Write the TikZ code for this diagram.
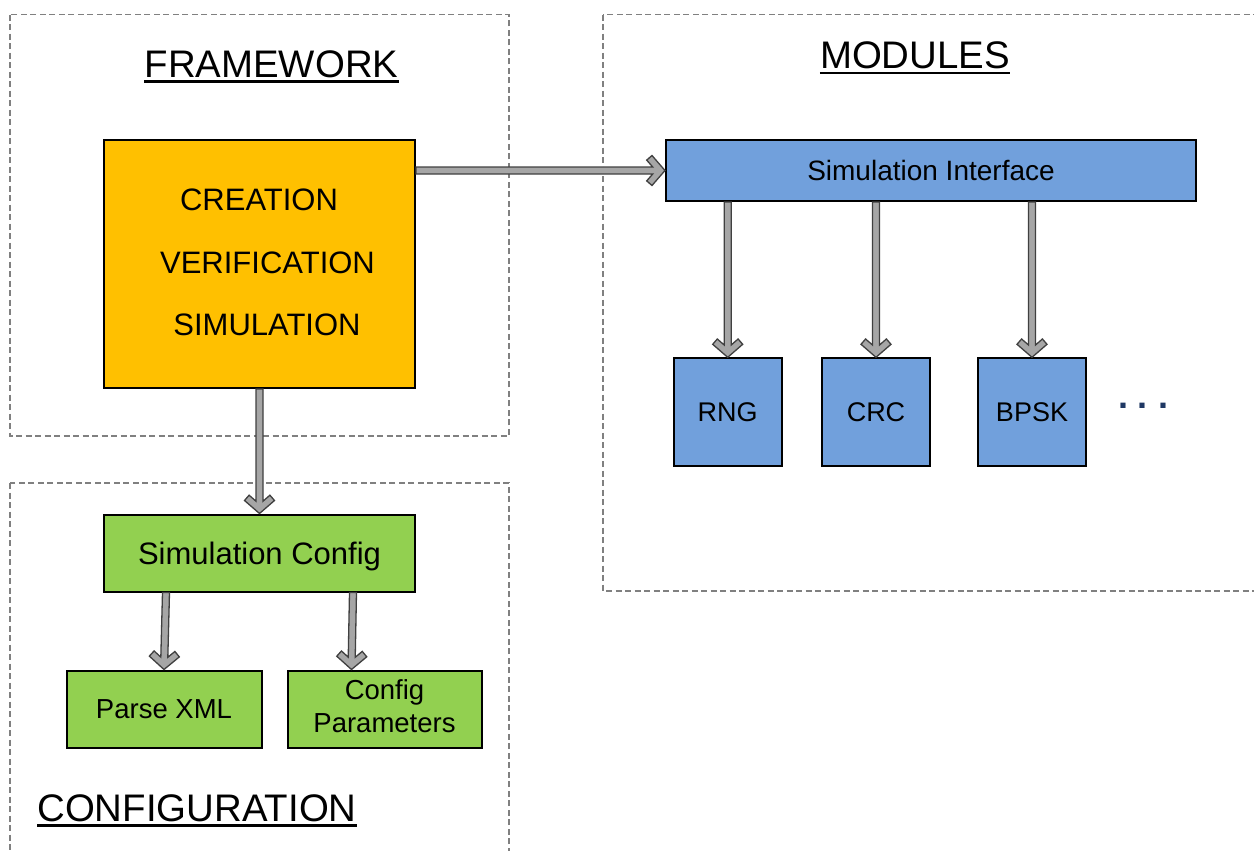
\documentclass[tikz,border=0pt]{standalone}
\usepackage{fontspec}
\setmainfont{Liberation Sans}
\usetikzlibrary{calc}

\definecolor{boxorange}{HTML}{FFC000}
\definecolor{boxblue}{HTML}{71A0DC}
\definecolor{boxgreen}{HTML}{92D050}
\definecolor{shaftgray}{HTML}{A6A6A6}
\definecolor{shaftedge}{HTML}{404040}
\definecolor{regionline}{HTML}{808080}
\definecolor{dotblue}{HTML}{1F3864}

% thick outlined arrow with an open chevron head, from coordinate #1 to #2
\newcommand\fatarrow[2]{%
  \coordinate (fa-n) at ($(#2)!12.3pt!(#1)$);
  \coordinate (fa-w) at ($(#2)!13pt!(#1)$);
  \coordinate (fa-c) at ($(#2)!18.3pt!(#1)$);
  \draw[fatarrow]
    ($(#1)!3.5pt!90:(#2)$) -- ($(fa-n)!3.5pt!90:(#2)$)
    -- ($(fa-c)!10.4pt!90:(#2)$) -- ($(fa-w)!15pt!90:(#2)$)
    -- (#2)
    -- ($(fa-w)!15pt!-90:(#2)$) -- ($(fa-c)!10.4pt!-90:(#2)$)
    -- ($(fa-n)!3.5pt!-90:(#2)$) -- ($(#1)!3.5pt!-90:(#2)$) -- cycle;
}

\tikzset{
  region/.style={draw=regionline, line width=1.2pt, dash pattern=on 6pt off 3.5pt},
  heading/.style={inner sep=0pt, anchor=base, font=\fontsize{38.4}{46}\selectfont},
  uline/.style={line width=2.4pt},
  box/.style={draw=black, line width=2pt, inner sep=0pt, text depth=0pt},
  fatarrow/.style={fill=shaftgray, draw=shaftedge, line width=1.3pt, line join=miter},
  bigtext/.style={inner sep=0pt, anchor=base, font=\fontsize{31}{37}\selectfont},
}

\begin{document}
\begin{tikzpicture}[x=1pt, y=1pt]
\useasboundingbox (0,0) rectangle (1254,-851);
\clip (0,0) rectangle (1254,-851);

% dashed regions
\draw[region] (10,-14.7) rectangle (509,-436);
\draw[region] (603,-14.7) rectangle (1262,-591);
\draw[region] (10,-483) rectangle (509,-870);

% region headings
\node[heading] (fwtitle) at (271.5,-77.7) {FRAMEWORK};
\draw[uline] ([yshift=-4pt]fwtitle.base west) -- ([yshift=-4pt]fwtitle.base east);
\node[heading] (modtitle) at (915,-69) {MODULES};
\draw[uline] ([yshift=-4.2pt]modtitle.base west) -- ([yshift=-4.2pt]modtitle.base east);
\node[heading] (cfgtitle) at (197,-821.7) {CONFIGURATION};
\draw[uline] ([yshift=-3.6pt]cfgtitle.base west) -- ([yshift=-3.6pt]cfgtitle.base east);

% framework core
\node[box, fill=boxorange, minimum width=311pt, minimum height=248pt] (core) at (259.5,-264) {};
\node[bigtext] (creation) at (259,-210.7) {CREATION};
\node[bigtext] (verification) at (267.5,-273.3) {VERIFICATION};
\node[bigtext] (simulation) at (267,-335.7) {SIMULATION};

% modules
\node[box, fill=boxblue, minimum width=530pt, minimum height=61pt, text height=20pt,
      font=\fontsize{28}{33}\selectfont] (simif) at (931,-170.5) {Simulation Interface};
\tikzset{modbox/.style={box, fill=boxblue, minimum width=108pt, minimum height=108pt,
      text height=19.3pt, font=\fontsize{27}{32}\selectfont}}
\node[modbox] (rng) at (727.7,-412.3) {RNG};
\node[modbox] (crc) at (876,-412.3) {CRC};
\node[modbox] (bpsk) at (1032,-412.3) {BPSK};
\node[anchor=base, inner sep=0pt, text=dotblue, font=\bfseries\fontsize{36}{40}\selectfont]
  (more) at (1143,-408) {.\ .\ .};

% configuration
\node[box, fill=boxgreen, minimum width=311pt, minimum height=77pt, text height=22.2pt,
      font=\fontsize{31}{37}\selectfont] (simcfg) at (259.5,-553) {Simulation Config};
\node[box, fill=boxgreen, minimum width=195pt, minimum height=77pt, text height=19.7pt,
      font=\fontsize{27.5}{33}\selectfont] (parse) at (164,-709) {Parse XML};
\node[box, fill=boxgreen, minimum width=194pt, minimum height=77pt, align=center,
      text depth=5pt, font=\fontsize{27.5}{33}\selectfont] (cfgpar) at (384.5,-709) {Config\\Parameters};

% connectors
\coordinate (a1s) at (core.east |- simif.west);
\fatarrow{a1s}{simif.west}
\coordinate (a2s) at (rng.north |- simif.south);
\fatarrow{a2s}{rng.north}
\coordinate (a3s) at (crc.north |- simif.south);
\fatarrow{a3s}{crc.north}
\coordinate (a4s) at (bpsk.north |- simif.south);
\fatarrow{a4s}{bpsk.north}
\coordinate (a5s) at (simcfg.north |- core.south);
\fatarrow{a5s}{simcfg.north}
\coordinate (a6s) at ([xshift=2pt]parse.north |- simcfg.south);
\fatarrow{a6s}{parse.north}
\coordinate (a7s) at ([xshift=-31.5pt]cfgpar.north |- simcfg.south);
\coordinate (a7e) at ([xshift=-33pt]cfgpar.north);
\fatarrow{a7s}{a7e}
\end{tikzpicture}
\end{document}
